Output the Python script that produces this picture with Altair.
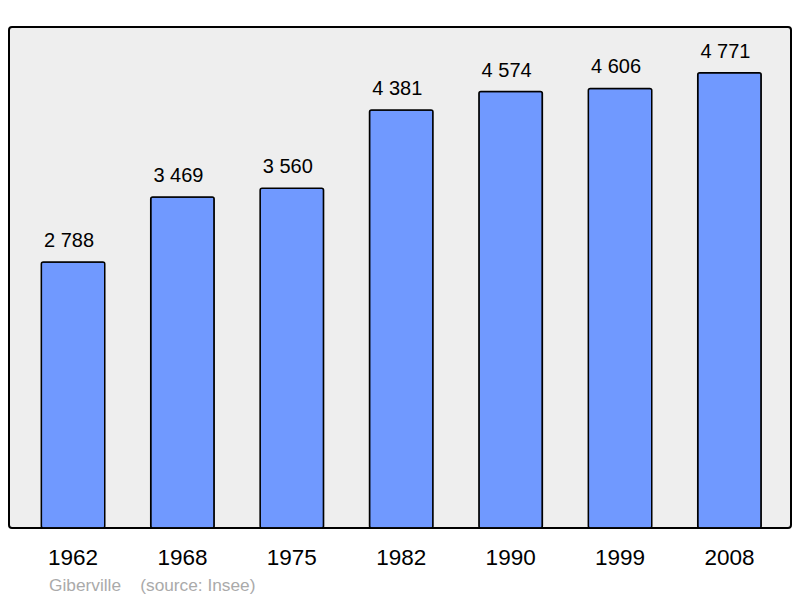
import altair as alt
import pandas as pd

years = ["1962", "1968", "1975", "1982", "1990", "1999", "2008"]
population = [2788, 3469, 3560, 4381, 4574, 4606, 4771]
labels = [f"{v:,}".replace(",", " ") for v in population]

df = pd.DataFrame({"year": years, "pop": population, "label": labels})

FONT = "Liberation Sans"

x = alt.X("year:N", sort=years, title=None,
          scale=alt.Scale(paddingInner=0.42, paddingOuter=0.284, align=0.52),
          axis=alt.Axis(labelAngle=0, domain=False, ticks=False, grid=False,
                        labelFontSize=22.5, labelFont=FONT, labelColor="black",
                        labelPadding=36, labelBaseline="alphabetic"))
y = alt.Y("pop:Q", title=None, scale=alt.Scale(domain=[0, 5250], nice=False),
          axis=None)

bars = alt.Chart(df).mark_bar(color="#7099ff", stroke="black", strokeWidth=1.5,
                              cornerRadius=2).encode(x=x, y=y)
text = alt.Chart(df).mark_text(baseline="alphabetic", dy=-15, dx=-4, fontSize=20,
                               font=FONT, color="black").encode(x=x, y=y, text="label:N")

chart = (bars + text).properties(
    width=782, height=501,
    autosize=alt.AutoSizeParams(type="none"),
    padding={"left": 1, "top": 19, "right": 1, "bottom": 70},
    title=alt.TitleParams(
        "Giberville" + "\u00a0" * 4 + "(source: Insee)",
        orient="bottom", anchor="start", frame="group", dx=40, offset=8,
        fontSize=17.3, font=FONT, fontWeight="normal", color="#aaaaaa"),
).configure_view(
    fill="#eeeeee", stroke="black", strokeWidth=2, cornerRadius=3
)

chart.save("out.html", embed_options={"renderer": "svg", "actions": False})
